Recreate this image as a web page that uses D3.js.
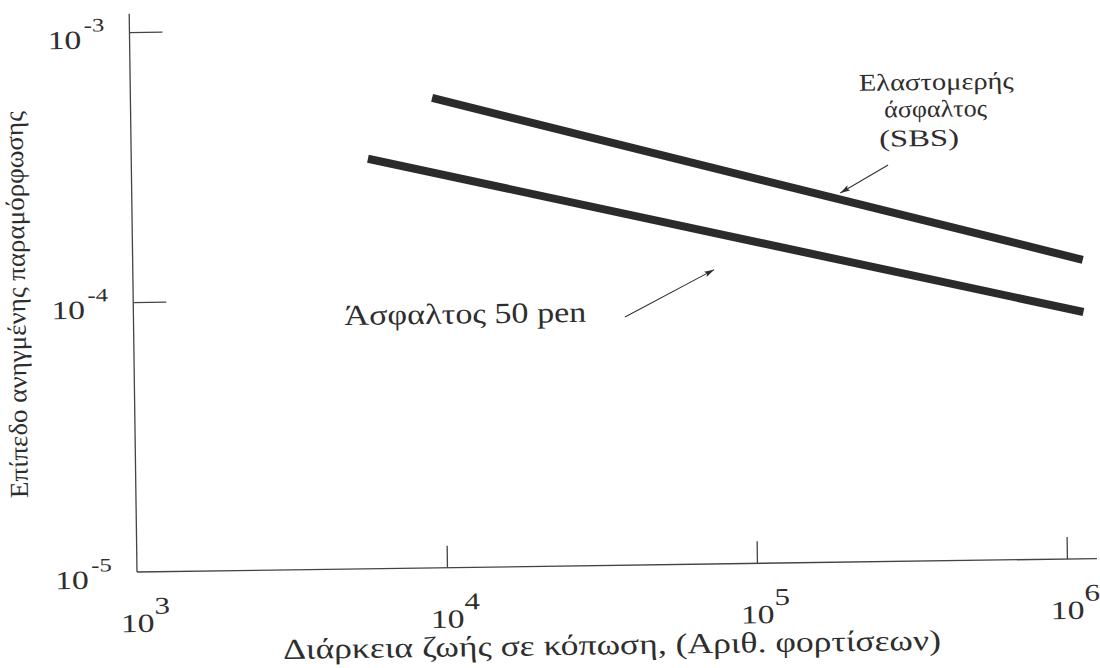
<!DOCTYPE html>
<html>
<head>
<meta charset="utf-8">
<script src="https://cdn.jsdelivr.net/npm/d3@7"></script>
<style>
  html, body { margin: 0; padding: 0; background: #ffffff; }
  svg { display: block; }
</style>
</head>
<body>
<svg id="chart" width="1100" height="668"></svg>
<script>
// Fatigue life (number of load cycles) against tensile strain level, log–log axes.
const xTicks = [1e3, 1e4, 1e5, 1e6];
const xTickExp = ["3", "4", "5", "6"];
const yTicks = [1e-3, 1e-4, 1e-5];
const yTickExp = ["-3", "-4", "-5"];

// Fatigue lines: [start, end] in cycles and strain
const sbsCycles = [9.4e3, 1.16e6];
const sbsStrain = [5.5e-4, 1.28e-4];
const pen50Cycles = [5.8e3, 1.16e6];
const pen50Strain = [3.3e-4, 8.2e-5];

// Callout arrows: [tail, head] as [cycles, strain]
const sbsArrow = [[2.76e5, 2.94e-4], [1.93e5, 2.33e-4]];
const pen50Arrow = [[3.85e4, 8.3e-5], [7.5e4, 1.23e-4]];

const xTitle = "Διάρκεια ζωής σε κόπωση, (Αριθ. φορτίσεων)";
const yTitle = "Επίπεδο ανηγμένης παραμόρφωσης";
const sbsLabel = ["Ελαστομερής", "άσφαλτος", "(SBS)"];
const pen50Label = "Άσφαλτος 50 pen";

const FONT = "Liberation Serif";
const ink = "#2e2e2e";

const svg = d3.select("#chart");

const x = d3.scaleLog().domain([1e3, 1e6]).range([137, 1067]);
const y = d3.scaleLog().domain([1e-5, 1e-3]).range([572, 32]);
const xAxisEnd = 1.25e6;   // axis line runs a little past the last decade
const yAxisEnd = 1.17e-3;

// whole figure sits slightly tilted on the page
const g = svg.append("g").attr("transform", `rotate(-0.8, ${x(1e3)}, ${y(1e-5)})`);

// widened lettering anchored at (ax, ay), fitted to a given width
function label(parent, str, ax, ay, size, width, anchor = "start", rotate = 0) {
  const t = parent.append("text")
    .attr("font-family", FONT)
    .attr("font-size", size)
    .attr("fill", ink)
    .attr("text-anchor", anchor)
    .text(str);
  const k = width / t.node().getComputedTextLength();
  t.attr("transform", `translate(${ax},${ay}) rotate(${rotate}) scale(${k},1)`);
  return t;
}

// axes: ticks point inward
const xAxis = d3.axisBottom(x).tickValues(xTicks.slice(1)).tickSizeInner(-22).tickSizeOuter(0).tickFormat("");
const yAxis = d3.axisLeft(y).tickValues(yTicks.slice(0, 2)).tickSizeInner(-33).tickSizeOuter(0).tickFormat("");

const gx = g.append("g").attr("transform", `translate(0,${y(1e-5)})`).call(xAxis);
const gy = g.append("g").attr("transform", `translate(${x(1e3)},0)`).call(yAxis);
[gx, gy].forEach(a => {
  a.select(".domain").remove();
  a.selectAll(".tick line").attr("stroke", "#444").attr("stroke-width", 1.3);
});
g.append("line")
  .attr("x1", x(1e3)).attr("x2", x(xAxisEnd))
  .attr("y1", y(1e-5)).attr("y2", y(1e-5))
  .attr("stroke", "#444").attr("stroke-width", 1.3);
g.append("line")
  .attr("x1", x(1e3)).attr("x2", x(1e3))
  .attr("y1", y(1e-5)).attr("y2", y(yAxisEnd))
  .attr("stroke", "#444").attr("stroke-width", 1.3);

// tick labels as powers of ten, slightly widened
const TICK_STRETCH = 1.3;
const xl = g.append("g").selectAll("text").data(xTicks).join("text")
  .attr("transform", d => `translate(${x(d)},${y(1e-5) + 60}) scale(${TICK_STRETCH},1)`)
  .attr("x", -13)
  .attr("font-family", FONT)
  .attr("font-size", 26)
  .attr("fill", ink);
xl.append("tspan").text("10");
xl.append("tspan").attr("dy", -18).attr("font-size", 24).text((d, i) => xTickExp[i]);

const yl = g.append("g").selectAll("text").data(yTicks).join("text")
  .attr("transform", d => `translate(${x(1e3) - 82},${y(d) + 16}) scale(${TICK_STRETCH},1)`)
  .attr("font-family", FONT)
  .attr("font-size", 26)
  .attr("fill", ink);
yl.append("tspan").text("10");
yl.append("tspan").attr("dx", 2).attr("dy", -17).attr("font-size", 19).text((d, i) => yTickExp[i]);

// axis titles
label(g, xTitle, 282, 661, 29, 658);
label(g, yTitle, 29, 303, 26, 387, "middle", -90);

// fatigue lines
const line = d3.line().x(d => x(d[0])).y(d => y(d[1]));
const series = [
  d3.zip(sbsCycles, sbsStrain),
  d3.zip(pen50Cycles, pen50Strain)
];
g.append("g").selectAll("path").data(series).join("path")
  .attr("d", line)
  .attr("fill", "none")
  .attr("stroke", "#2b2b2b")
  .attr("stroke-width", 8)
  .attr("stroke-linecap", "butt");

// callouts
svg.append("defs").append("marker")
  .attr("id", "head")
  .attr("viewBox", "0 0 10 6")
  .attr("refX", 10).attr("refY", 3)
  .attr("markerWidth", 10).attr("markerHeight", 6)
  .attr("markerUnits", "userSpaceOnUse")
  .attr("orient", "auto")
  .append("path").attr("d", "M0,0 L10,3 L0,6 L2,3 Z").attr("fill", ink);

g.append("g").selectAll("path").data([sbsArrow, pen50Arrow]).join("path")
  .attr("d", line)
  .attr("fill", "none")
  .attr("stroke", ink)
  .attr("stroke-width", 1)
  .attr("marker-end", "url(#head)");

const sbsPos = [[943, 101], [942, 128], [925, 157]];
const sbsWidth = [155, 103, 80];
sbsLabel.forEach((s, i) =>
  label(g, s, sbsPos[i][0], sbsPos[i][1], 24, sbsWidth[i], "middle"));

label(g, pen50Label, 348, 328, 29, 242);
</script>
</body>
</html>
